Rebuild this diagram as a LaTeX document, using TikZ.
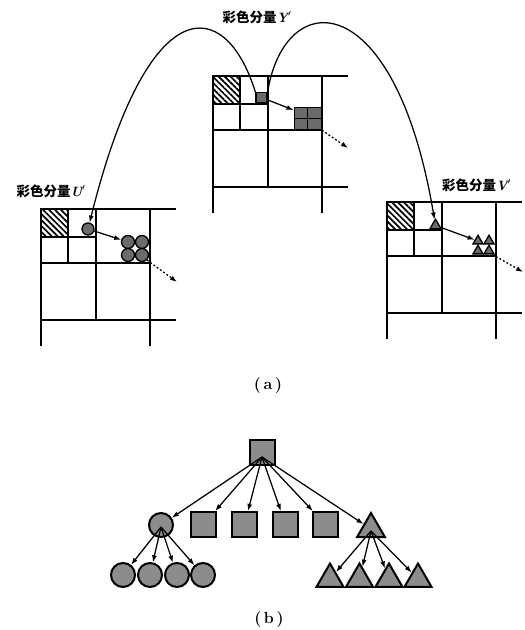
\documentclass[tikz,border=0pt]{standalone}
\usepackage{fontspec}
\newfontfamily\cjk{Noto Sans CJK SC}
\usetikzlibrary{arrows.meta,patterns.meta,shapes.geometric,calc}
\tikzset{
  gridline/.style={line width=1.6pt},
  hatch/.style={pattern={Lines[angle=-45,distance=4.2pt,line width=1.7pt]}},
  arr/.style={-{Latex[length=7pt,width=5pt]}, line width=1.25pt},
  dotarr/.style={arr, dash pattern=on 2pt off 2pt},
  gitem/.style={draw, fill=black!58, line width=1.3pt, inner sep=0pt},
  ciritem/.style={gitem, circle, minimum size=#1},
  triitem/.style={gitem, regular polygon, regular polygon sides=3, minimum size=#1},
  bitem/.style={draw, fill=black!45, line width=2pt, inner sep=0pt},
  bsq/.style={bitem, rectangle, minimum size=25pt},
  bcir/.style={bitem, circle, minimum size=24pt},
  btri/.style={bitem, regular polygon, regular polygon sides=3, minimum size=#1},
  lab/.style={font=\fontsize{13.5}{15}\selectfont, inner sep=0pt},
  sublab/.style={font=\fontsize{16}{18}\selectfont\bfseries, inner sep=0pt},
  quadgrid/.pic={
    \fill[hatch] (0,0) rectangle (27,28);
    \draw[gridline] (0,0) -- (135,0);
    \draw[gridline] (0,0) -- (0,137);
    \draw[gridline] (109,0) -- (109,137);
    \draw[gridline] (0,111) -- (135,111);
    \draw[gridline] (55,0) -- (55,111);
    \draw[gridline] (0,54) -- (109,54);
    \draw[gridline] (27,0) -- (27,54);
    \draw[gridline] (0,28) -- (55,28);
    \draw[gridline] (0,0) rectangle (27,28);
  }
}
\newcommand{\compl}[1]{{\cjk\bfseries 彩色分量}{\rmfamily\bfseries\itshape #1$'$}}
\begin{document}
\begin{tikzpicture}[x=1pt,y=-1pt]
\useasboundingbox (0,0) rectangle (525,630);

% ---------- (a) grids ----------
\pic at (213,76) {quadgrid};
\pic at (41,209) {quadgrid};
\pic at (387,202) {quadgrid};

% Y component items
\node[gitem, rectangle, minimum width=11pt, minimum height=10pt] (ys) at (261.5,97.5) {};
\node[gitem, rectangle, minimum width=13.5pt, minimum height=11pt] (y1) at (301,113) {};
\node[gitem, rectangle, minimum width=13.5pt, minimum height=11pt] (y2) at (314.5,113) {};
\node[gitem, rectangle, minimum width=13.5pt, minimum height=11pt] (y3) at (301,124) {};
\node[gitem, rectangle, minimum width=13.5pt, minimum height=11pt] (y4) at (314.5,124) {};
\coordinate (yd) at (348,148);

% U component items
\node[ciritem=12pt] (uc) at (88,229) {};
\node[ciritem=13pt] (u1) at (128,242) {};
\node[ciritem=13pt] (u2) at (142,242) {};
\node[ciritem=13pt] (u3) at (128,255) {};
\node[ciritem=13pt] (u4) at (142,255) {};
\coordinate (ud) at (177,282);

% V component items
\node[triitem=12.7pt] (vt) at (435.5,225.5) {};
\node[triitem=11.5pt] (v1) at (478,241) {};
\node[triitem=11.5pt] (v2) at (489,241) {};
\node[triitem=11.5pt] (v3) at (478,251) {};
\node[triitem=11.5pt] (v4) at (489,251) {};
\coordinate (vd) at (523,272);

% local arrows
\draw[arr] (ys) -- (y1);
\draw[dotarr] (y4.south east) -- (yd);
\draw[arr] (uc) -- (u1);
\draw[dotarr] (u4.south east) -- (ud);
\draw[arr] (vt) -- (v1);
\draw[dotarr] (v4.south east) -- (vd);

% arches
\draw[arr] (ys.north west) .. controls (225,-5) and (148,-12) .. (uc);
\draw[arr] (ys.north east) .. controls (285,-15) and (395,-15) .. (vt);

% labels
\node[lab] (ly) at (257,17) {\compl{Y}};
\node[lab] (lu) at (51,191) {\compl{U}};
\node[lab, anchor=west] (lv) at (442,185) {\compl{V}};
\node[sublab] (la) at (268,386) {(\,a\,)};

% ---------- (b) tree ----------
\node[bsq] (root) at (262,452) {};
\coordinate (rc) at (262,457);

\node[bcir] (c1) at (161,525) {};
\node[bsq] (s1) at (203.5,524.5) {};
\node[bsq] (s2) at (244.5,524.5) {};
\node[bsq] (s3) at (285.5,524.5) {};
\node[bsq] (s4) at (325.5,524.5) {};
\node[btri=32pt] (t1) at (371,529) {};
\coordinate (cc) at (161,527);
\coordinate (tc) at (371,531);

\node[bcir] (g1) at (123,575) {};
\node[bcir] (g2) at (150,575) {};
\node[bcir] (g3) at (177,575) {};
\node[bcir] (g4) at (203,575) {};

\node[btri=31pt] (h1) at (330,579) {};
\node[btri=31pt] (h2) at (359.5,579) {};
\node[btri=31pt] (h3) at (389,579) {};
\node[btri=31pt] (h4) at (418,579) {};

\foreach \n in {c1,s1,s2,s3,s4,t1} \draw[arr] (rc) -- (\n);
\foreach \n in {g1,g2,g3,g4} \draw[arr] (cc) -- (\n);
\foreach \n in {h1,h2,h3,h4} \draw[arr] (tc) -- (\n);

\node[sublab] (lb) at (269,619) {(\,b\,)};
\end{tikzpicture}
\end{document}
